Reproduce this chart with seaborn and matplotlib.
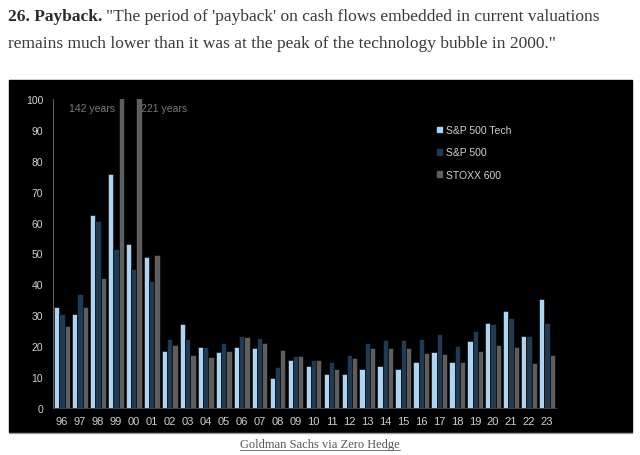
import numpy as np
import pandas as pd
import matplotlib
matplotlib.use("Agg")
import matplotlib.pyplot as plt
import seaborn as sns
from matplotlib.patches import Rectangle
from matplotlib.lines import Line2D

years = ["96", "97", "98", "99", "00", "01", "02", "03", "04", "05", "06", "07", "08", "09",
         "10", "11", "12", "13", "14", "15", "16", "17", "18", "19", "20", "21", "22", "23"]
sp_tech = [32.6, 30.4, 62.4, 75.7, 53.1, 49.0, 18.6, 27.1, 19.6, 18.0, 19.8, 19.3, 9.8, 15.4,
           13.5, 11.0, 11.0, 12.5, 13.7, 12.7, 14.9, 18.2, 14.9, 21.7, 27.6, 31.5, 23.4, 35.4]
sp_500 = [30.4, 36.8, 60.4, 51.4, 45.0, 41.0, 22.2, 22.2, 19.7, 20.9, 23.4, 22.6, 13.4, 16.7,
          15.6, 14.9, 17.3, 20.9, 21.9, 21.9, 22.2, 24.0, 20.2, 24.8, 27.3, 29.0, 23.2, 27.5]
stoxx_600 = [26.4, 32.6, 42.0, 142.0, 221.0, 49.5, 20.3, 17.3, 16.6, 18.3, 22.9, 21.0, 18.8, 16.7,
             15.4, 12.7, 16.2, 19.3, 19.5, 19.3, 17.8, 17.5, 14.9, 18.3, 20.5, 19.6, 14.7, 17.2]
series = ["S&P 500 Tech", "S&P 500", "STOXX 600"]
colors = {"S&P 500 Tech": "#a3d5fb", "S&P 500": "#183b5a", "STOXX 600": "#5e5e5e"}

df = pd.DataFrame({"year": years * 3,
                   "value": sp_tech + sp_500 + stoxx_600,
                   "index": [s for s in series for _ in years]})

sns.set_style("dark")
plt.rcParams["font.family"] = ["Liberation Sans", "DejaVu Sans"]

fig = plt.figure(figsize=(6.4, 4.56), dpi=100, facecolor="white")

# black panel behind the chart
fig.patches.append(Rectangle((9 / 640, (456 - 433) / 456), 623 / 640, 352 / 456,
                             transform=fig.transFigure, color="black", zorder=-5))
fig.lines.append(Line2D([9 / 640, 632 / 640], [(456 - 434) / 456] * 2,
                        transform=fig.transFigure, color="#9a9a9a", lw=1))

ax = fig.add_axes([53 / 640, 47 / 456, 503 / 640, 309 / 456])
ax.set_zorder(2)
ax.set_facecolor("black")
sns.barplot(data=df, x="year", y="value", hue="index", palette=colors, width=0.88,
            edgecolor="black", linewidth=0.4, ax=ax, legend=False)
ax.set_ylim(0, 100)
ax.set_xlim(-0.5, len(years) - 0.5)
ax.set_yticks(np.arange(0, 101, 10))
ax.set_xlabel("")
ax.set_ylabel("")
ax.grid(False)
ax.tick_params(axis="y", colors="#707070", labelcolor="#d0d0d0", labelsize=7.5, length=3, width=0.6, pad=4)
ax.tick_params(axis="x", length=0, labelcolor="#d0d0d0", labelsize=8, pad=6)
for s in ["top", "right"]:
    ax.spines[s].set_visible(False)
ax.spines["left"].set_color("#707070")
ax.spines["left"].set_linewidth(0.6)
ax.spines["bottom"].set_color("#505050")
ax.spines["bottom"].set_linewidth(0.6)

ax.text(2.95, 97.2, "142 years", ha="right", va="center", color="#7a7a7a", fontsize=7.5)
ax.text(4.4, 97.2, "221 years", ha="left", va="center", color="#7a7a7a", fontsize=7.5)

handles = [Rectangle((0, 0), 1, 1, color=colors[s]) for s in series]
leg = fig.legend(handles, series, loc="upper left", bbox_to_anchor=(428 / 640, (456 - 117) / 456),
                 frameon=False, handlelength=0.45, handleheight=0.45, handletextpad=0.35,
                 labelspacing=1.16, fontsize=7.5, labelcolor="#d0d0d0")
leg.set_zorder(3)

# headline text
serif = ["Liberation Serif", "DejaVu Serif"]
y1 = (456 - 21) / 456
t_bold = fig.text(8 / 640, y1, "26. Payback.", fontsize=12.5, fontweight="bold",
                  family=serif, color="#2b2b2b", va="baseline")
fig.canvas.draw()
bb = t_bold.get_window_extent()
fig.text((bb.x1 + 4) / 640, y1,
         "\"The period of 'payback' on cash flows embedded in current valuations",
         fontsize=12.5, family=serif, color="#3a3a3a", va="baseline")
fig.text(8 / 640, (456 - 48) / 456,
         "remains much lower than it was at the peak of the technology bubble in 2000.\"",
         fontsize=12.5, family=serif, color="#3a3a3a", va="baseline")

cap = fig.text(0.5, (456 - 448.5) / 456, "Goldman Sachs via Zero Hedge", fontsize=9,
               family=serif, color="#555555", ha="center", va="baseline")
fig.canvas.draw()
cb = cap.get_window_extent()
fig.lines.append(Line2D([cb.x0 / 640, cb.x1 / 640], [(456 - 450.8) / 456] * 2,
                        transform=fig.transFigure, color="#777777", lw=0.7))

fig.savefig("out.png", dpi=100, facecolor="white")
